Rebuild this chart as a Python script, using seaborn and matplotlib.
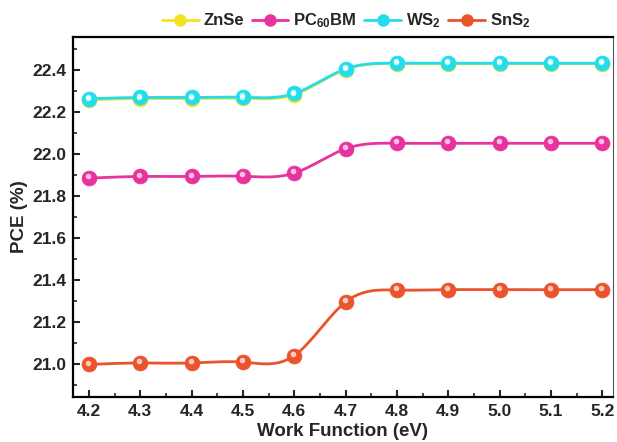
import numpy as np
import pandas as pd
import matplotlib
matplotlib.use("Agg")
import matplotlib.pyplot as plt
import matplotlib.transforms as mtransforms
from matplotlib.lines import Line2D
from matplotlib.ticker import MultipleLocator
import seaborn as sns

# ---- data ----
work_function = [4.2, 4.3, 4.4, 4.5, 4.6, 4.7, 4.8, 4.9, 5.0, 5.1, 5.2]
pce_znse = [22.258, 22.264, 22.264, 22.265, 22.283, 22.402, 22.430, 22.430, 22.430, 22.430, 22.430]
pce_pcbm = [21.885, 21.893, 21.893, 21.894, 21.909, 22.025, 22.051, 22.051, 22.051, 22.051, 22.051]
pce_ws2 = [22.263, 22.269, 22.269, 22.270, 22.288, 22.405, 22.432, 22.432, 22.432, 22.432, 22.432]
pce_sns2 = [20.998, 21.005, 21.005, 21.009, 21.040, 21.295, 21.352, 21.354, 21.354, 21.354, 21.354]
series_names = ["ZnSe", r"PC$_{\mathbf{60}}$BM", r"WS$_{\mathbf{2}}$", r"SnS$_{\mathbf{2}}$"]
series_values = [pce_znse, pce_pcbm, pce_ws2, pce_sns2]
colors = ["#F2E224", "#E8329E", "#22DDEE", "#EA532C"]
x_ticks = [4.2, 4.3, 4.4, 4.5, 4.6, 4.7, 4.8, 4.9, 5.0, 5.1, 5.2]
y_ticks = [21.0, 21.2, 21.4, 21.6, 21.8, 22.0, 22.2, 22.4]


def natural_spline(x, y, n=400):
    x = np.asarray(x, float)
    y = np.asarray(y, float)
    m = len(x)
    h = np.diff(x)
    A = np.zeros((m, m))
    b = np.zeros(m)
    A[0, 0] = 1
    A[-1, -1] = 1
    for i in range(1, m - 1):
        A[i, i - 1] = h[i - 1]
        A[i, i] = 2 * (h[i - 1] + h[i])
        A[i, i + 1] = h[i]
        b[i] = 3 * ((y[i + 1] - y[i]) / h[i] - (y[i] - y[i - 1]) / h[i - 1])
    c = np.linalg.solve(A, b)
    bb = (np.diff(y) / h) - h * (2 * c[:-1] + c[1:]) / 3
    d = np.diff(c) / (3 * h)
    xs = np.linspace(x[0], x[-1], n)
    idx = np.clip(np.searchsorted(x, xs, side="right") - 1, 0, m - 2)
    dx = xs - x[idx]
    ys = y[idx] + bb[idx] * dx + c[idx] * dx ** 2 + d[idx] * dx ** 3
    return xs, ys


sns.set_theme(style="white")
plt.rcParams["font.family"] = ["Liberation Sans", "DejaVu Sans"]
plt.rcParams["font.weight"] = "bold"
plt.rcParams["mathtext.fontset"] = "custom"
plt.rcParams["mathtext.rm"] = "Liberation Sans:bold"
plt.rcParams["mathtext.bf"] = "Liberation Sans:bold"
plt.rcParams["mathtext.it"] = "Liberation Sans:bold"

fig = plt.figure(figsize=(6.17, 4.42), dpi=100)
ax = fig.add_axes([0.1183, 0.1018, 0.8752, 0.8145])

hl = mtransforms.offset_copy(ax.transData, fig=fig, x=-1.0, y=1.8, units="dots")

for name, vals, col in zip(series_names, series_values, colors):
    xs, ys = natural_spline(work_function, vals)
    dfl = pd.DataFrame({"x": xs, "y": ys})
    sns.lineplot(data=dfl, x="x", y="y", color=col, lw=2.0, ax=ax, zorder=2)
    dfp = pd.DataFrame({"x": work_function, "y": vals})
    sns.scatterplot(data=dfp, x="x", y="y", color=col, s=115, edgecolor=col,
                    linewidth=0.5, ax=ax, zorder=3)
    ax.scatter(work_function, vals, s=16, color="white", alpha=0.7,
               linewidths=0, transform=hl, zorder=4)

ax.set_xlim(4.169, 5.221)
ax.set_ylim(20.843, 22.557)
ax.set_xticks(x_ticks)
ax.set_xticklabels([f"{v:.1f}" for v in x_ticks])
ax.set_yticks(y_ticks)
ax.set_yticklabels([f"{v:.1f}" for v in y_ticks])
ax.xaxis.set_minor_locator(MultipleLocator(0.05))
ax.yaxis.set_minor_locator(MultipleLocator(0.1))
ax.tick_params(axis="both", which="major", direction="in", length=5, width=1.5,
               labelsize=12.5, pad=5, bottom=True, left=True, top=False, right=False)
ax.tick_params(axis="both", which="minor", direction="in", length=3, width=1.2,
               bottom=True, left=True, top=False, right=False)
for lab in ax.get_xticklabels() + ax.get_yticklabels():
    lab.set_fontweight("bold")

ax.set_xlabel("Work Function (eV)", fontsize=13.5, fontweight="bold", labelpad=3)
ax.set_ylabel("PCE (%)", fontsize=13.5, fontweight="bold", labelpad=3)

for side in ["left", "bottom", "top"]:
    ax.spines[side].set_visible(True)
    ax.spines[side].set_color("black")
    ax.spines[side].set_linewidth(1.6)
ax.spines["right"].set_visible(True)
ax.spines["right"].set_color("#555555")
ax.spines["right"].set_linewidth(0.8)

handles = [Line2D([], [], color=c, lw=2.0, marker="o", markersize=8,
                  markerfacecolor=c, markeredgecolor=c) for c in colors]
ax.legend(handles, series_names, ncol=4, frameon=False, loc="center",
          bbox_to_anchor=(0.506, 1.045), handlelength=2.2,
          handletextpad=0.3, columnspacing=0.45, borderaxespad=0,
          prop={"weight": "bold", "size": 12})

fig.savefig("out.png", dpi=100)
